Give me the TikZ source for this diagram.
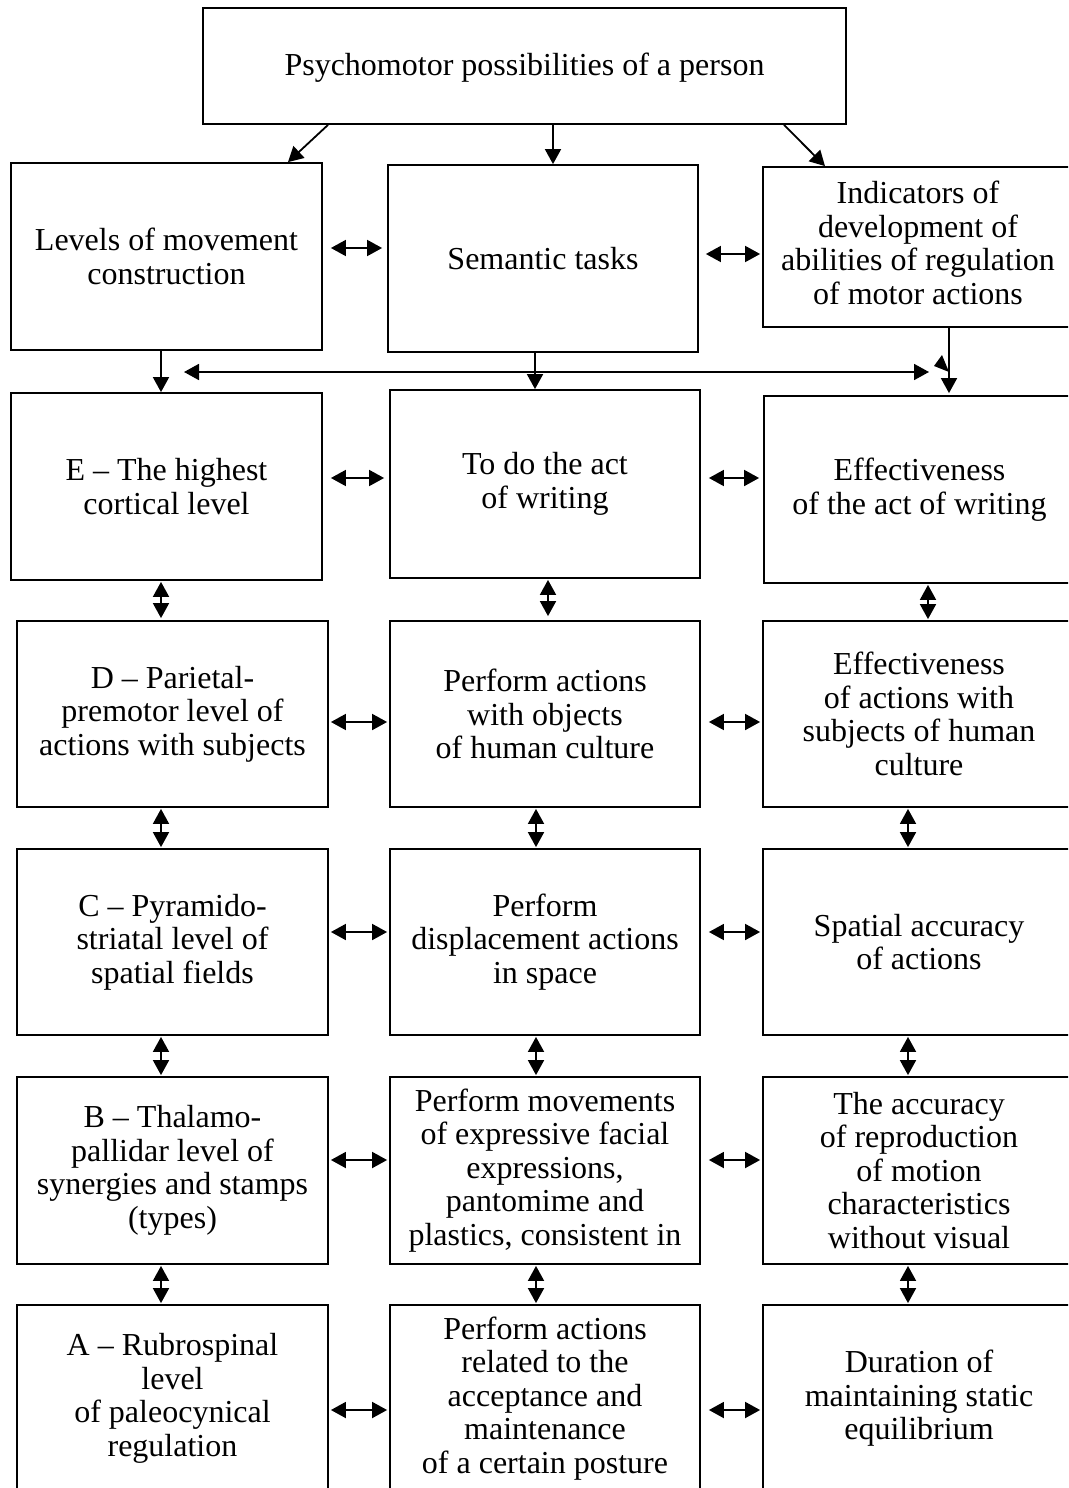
\documentclass[tikz,border=0pt]{standalone}
\usepackage{fontspec}
\setmainfont{Liberation Serif}
\usetikzlibrary{arrows.meta,calc}
\newcommand\bx[6]{\node[box,minimum width={#4-#2},minimum height={#5-#3}] (#1) at ({(#2+#4)/2},{(#3+#5)/2}) {#6};}
\begin{document}
\begin{tikzpicture}[x=1pt,y=-1pt,
  box/.style={draw,line width=1.8pt,inner sep=0pt,align=center,font=\fontsize{32}{33.5}\selectfont},
  lbl/.style={inner sep=0pt,align=center,font=\fontsize{32}{33.5}\selectfont},
  ar/.style={line width=1.8pt,-{Triangle[length=15pt,width=16pt]}},
  dbl/.style={line width=1.8pt,{Triangle[length=15pt,width=16pt]}-{Triangle[length=15pt,width=16pt]}}]
\useasboundingbox (0,0) rectangle (1068,1488);
\clip (0,0) rectangle (1068,1488);
% boxes
\bx{top}{203}{8}{846}{124}{}
\node[lbl] (topt) at (524.5,68) {Psychomotor possibilities of a person};
\bx{r1L}{11}{163}{322}{350}{Levels of movement\\construction}
\bx{r1M}{388}{165}{698}{352}{Semantic tasks}
\bx{r1R}{763}{167}{1075}{327}{}
\node[lbl] (r1Rt) at (918,243) {Indicators of\\development of\\abilities of regulation\\of motor actions};
\bx{r2L}{11}{393}{322}{580}{E – The highest\\cortical level}
\bx{r2M}{390}{390}{700}{578}{To do the act\\of writing}
\bx{r2R}{764}{396}{1075}{583}{Effectiveness\\of the act of writing}
\bx{r3L}{17}{621}{328}{807}{D – Parietal-\\premotor level of\\actions with subjects}
\bx{r3M}{390}{621}{700}{807}{Perform actions\\with objects\\of human culture}
\bx{r3R}{763}{621}{1075}{807}{Effectiveness\\of actions with\\subjects of human\\culture}
\bx{r4L}{17}{849}{328}{1035}{C – Pyramido-\\striatal level of\\spatial fields}
\bx{r4M}{390}{849}{700}{1035}{Perform\\displacement actions\\in space}
\bx{r4R}{763}{849}{1075}{1035}{Spatial accuracy\\of actions}
\bx{r5L}{17}{1077}{328}{1264}{B – Thalamo-\\pallidar level of\\synergies and stamps\\(types)}
\bx{r5M}{390}{1077}{700}{1264}{Perform movements\\of expressive facial\\expressions,\\pantomime and\\plastics, consistent in}
\bx{r5R}{763}{1077}{1075}{1264}{The accuracy\\of reproduction\\of motion\\characteristics\\without visual}
\bx{r6L}{17}{1305}{328}{1492}{A – Rubrospinal\\level\\of paleocynical\\regulation}
\bx{r6M}{390}{1305}{700}{1492}{Perform actions\\related to the\\acceptance and\\maintenance\\of a certain posture}
\bx{r6R}{763}{1305}{1075}{1492}{Duration of\\maintaining static\\equilibrium}
% top arrows
\draw[ar] (top.south -| 328,0) -- (r1L.north -| 288,0);
\draw[ar] (top.south -| 553,0) -- (r1M.north -| 553,0);
\draw[ar] (top.south -| 784,0) -- (r1R.north -| 825,0);
% row 1 horizontals
\draw[dbl,shorten <=8pt,shorten >=5pt] (r1L.east |- 0,248) -- (r1M.west |- 0,248);
\draw[dbl,shorten <=7pt,shorten >=2pt] (r1M.east |- 0,254) -- (r1R.west |- 0,254);
% row1 -> row2
\draw[ar] (r1L.south -| 161,0) -- (r2L.north -| 161,0);
\draw[ar] (r1M.south -| 535,0) -- (r2M.north -| 535,0);
\draw[ar,shorten >=2pt] (r1R.south -| 949,0) -- (r2R.north -| 949,0);
\coordinate (hl) at (184,372);
\coordinate (hr) at (929,372);
\draw[dbl] (hl) -- (hr);
\fill (934,366) -- (942,355) -- (949,372) -- cycle;
% row 2 horizontals
\draw[dbl,shorten <=8pt,shorten >=5pt] (r2L.east |- 0,478) -- (r2M.west |- 0,478);
\draw[dbl,shorten <=8pt,shorten >=4pt] (r2M.east |- 0,478) -- (r2R.west |- 0,478);
% row 3-6 horizontals
\draw[dbl,shorten <=2pt,shorten >=2pt] (r3L.east |- 0,722) -- (r3M.west |- 0,722);
\draw[dbl,shorten <=8pt,shorten >=2pt] (r3M.east |- 0,722) -- (r3R.west |- 0,722);
\draw[dbl,shorten <=2pt,shorten >=2pt] (r4L.east |- 0,932) -- (r4M.west |- 0,932);
\draw[dbl,shorten <=8pt,shorten >=2pt] (r4M.east |- 0,932) -- (r4R.west |- 0,932);
\draw[dbl,shorten <=2pt,shorten >=2pt] (r5L.east |- 0,1160) -- (r5M.west |- 0,1160);
\draw[dbl,shorten <=8pt,shorten >=2pt] (r5M.east |- 0,1160) -- (r5R.west |- 0,1160);
\draw[dbl,shorten <=2pt,shorten >=2pt] (r6L.east |- 0,1410) -- (r6M.west |- 0,1410);
\draw[dbl,shorten <=8pt,shorten >=2pt] (r6M.east |- 0,1410) -- (r6R.west |- 0,1410);
% vertical doubles
\draw[dbl,shorten <=1pt,shorten >=2pt] (r2L.south -| 161,0) -- (r3L.north -| 161,0);
\draw[dbl,shorten <=1pt,shorten >=4pt] (r2M.south -| 548,0) -- (r3M.north -| 548,0);
\draw[dbl,shorten <=1pt,shorten >=1pt] (r2R.south -| 928,0) -- (r3R.north -| 928,0);
\draw[dbl,shorten <=1pt,shorten >=1pt] (r3L.south -| 161,0) -- (r4L.north -| 161,0);
\draw[dbl,shorten <=1pt,shorten >=1pt] (r3M.south -| 536,0) -- (r4M.north -| 536,0);
\draw[dbl,shorten <=1pt,shorten >=1pt] (r3R.south -| 908,0) -- (r4R.north -| 908,0);
\draw[dbl,shorten <=1pt,shorten >=1pt] (r4L.south -| 161,0) -- (r5L.north -| 161,0);
\draw[dbl,shorten <=1pt,shorten >=1pt] (r4M.south -| 536,0) -- (r5M.north -| 536,0);
\draw[dbl,shorten <=1pt,shorten >=1pt] (r4R.south -| 908,0) -- (r5R.north -| 908,0);
\draw[dbl,shorten <=1pt,shorten >=1pt] (r5L.south -| 161,0) -- (r6L.north -| 161,0);
\draw[dbl,shorten <=1pt,shorten >=1pt] (r5M.south -| 536,0) -- (r6M.north -| 536,0);
\draw[dbl,shorten <=1pt,shorten >=1pt] (r5R.south -| 908,0) -- (r6R.north -| 908,0);
\end{tikzpicture}
\end{document}
